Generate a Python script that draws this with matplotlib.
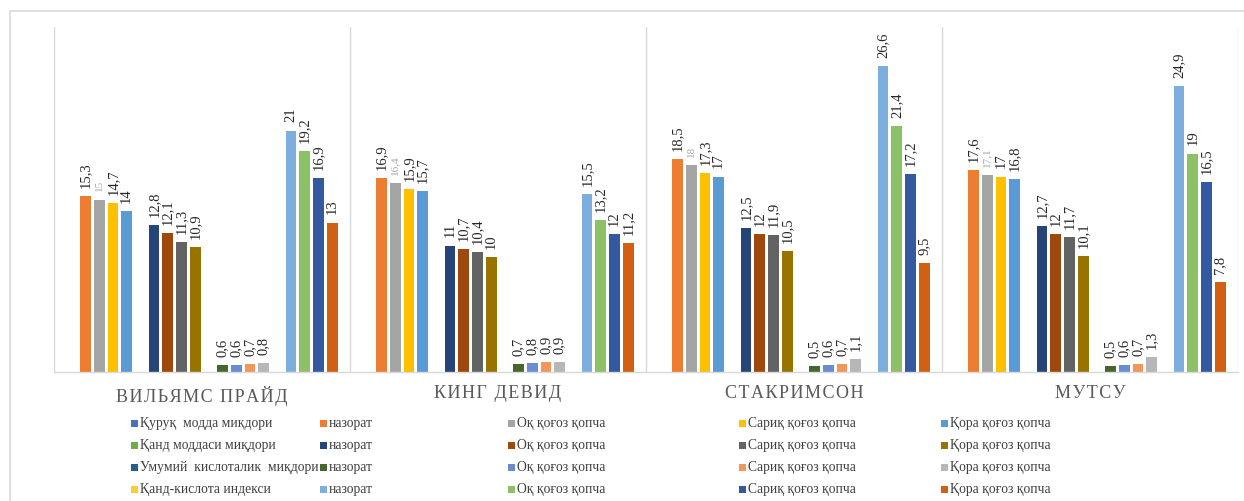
import matplotlib
matplotlib.use("Agg")
import matplotlib.pyplot as plt
from matplotlib.patches import Rectangle
import numpy as np

W, H = 1244, 502

varieties = ["ВИЛЬЯМС ПРАЙД", "КИНГ ДЕВИД", "СТАКРИМСОН", "МУТСУ"]
indicators = ["Қуруқ  модда миқдори", "Қанд моддаси миқдори",
              "Умумий  кислоталик  миқдори", "Қанд-кислота индекси"]
treatments = ["назорат", "Оқ қоғоз қопча", "Сариқ қоғоз қопча", "Қора қоғоз қопча"]

# values per indicator: rows = varieties, cols = treatments
dry_matter = [[15.3, 15.0, 14.7, 14.0],
              [16.9, 16.4, 15.9, 15.7],
              [18.5, 18.0, 17.3, 17.0],
              [17.6, 17.1, 17.0, 16.8]]
sugar = [[12.8, 12.1, 11.3, 10.9],
         [11.0, 10.7, 10.4, 10.0],
         [12.5, 12.0, 11.9, 10.5],
         [12.7, 12.0, 11.7, 10.1]]
acidity = [[0.6, 0.6, 0.7, 0.8],
           [0.7, 0.8, 0.9, 0.9],
           [0.5, 0.6, 0.7, 1.1],
           [0.5, 0.6, 0.7, 1.3]]
sugar_acid_index = [[21.0, 19.2, 16.9, 13.0],
                    [15.5, 13.2, 12.0, 11.2],
                    [26.6, 21.4, 17.2, 9.5],
                    [24.9, 19.0, 16.5, 7.8]]
blocks = [dry_matter, sugar, acidity, sugar_acid_index]

# Office palette: header colour of each block, then its four treatment colours
header_colors = ["#4472C4", "#70AD47", "#255E91", "#FFCD33"]
treatment_colors = [["#ED7D31", "#A5A5A5", "#FFC000", "#5B9BD5"],
                    ["#264478", "#9E480E", "#636363", "#997300"],
                    ["#43682B", "#698ED0", "#F1975A", "#B7B7B7"],
                    ["#7CAFDD", "#8CC168", "#335AA1", "#D26012"]]

plt.rcParams["font.family"] = ["Liberation Serif", "DejaVu Serif"]

fig = plt.figure(figsize=(W / 100, H / 100), dpi=100)
fig.patch.set_facecolor("white")

# chart-area frame
fig.add_artist(Rectangle((10 / W, -0.1), 1.2, 1 - 12 / H + 0.1,
                         transform=fig.transFigure, fill=False,
                         edgecolor="#D9D9D9", linewidth=1.2))

left, right = 54 / W, 1238 / W
bottom, top = 1 - 373 / H, 1 - 28 / H
ax = fig.add_axes([left, bottom, right - left, top - bottom])
ax.set_xlim(0, len(varieties))
ax.set_ylim(0, 30)

pitch = 13.7 / 296
bar_w = 10.8 / 296
n_slots = 20

for b, block in enumerate(blocks):
    for t in range(4):
        slot = b * 5 + 1 + t
        xs = np.arange(len(varieties)) + 0.5 + (slot - (n_slots - 1) / 2) * pitch
        vals = [row[t] for row in block]
        ax.bar(xs, vals, width=bar_w, color=treatment_colors[b][t], linewidth=0)
        for x, v in zip(xs, vals):
            label = f"{v:g}".replace(".", ",")
            if b == 0 and t == 1:
                kw = dict(fontsize=8, color="#A5A5A5")
            else:
                kw = dict(fontsize=10.5, color="#262626")
            ax.annotate(label, xy=(x, v), xytext=(0, 6.5), textcoords="offset points",
                        rotation=90, ha="center", va="bottom", **kw)

for i in range(len(varieties) + 1):
    ax.axvline(i, color="#D9D9D9", linewidth=1.0, zorder=0)

for s in ["top", "left", "right"]:
    ax.spines[s].set_visible(False)
ax.spines["bottom"].set_color("#D9D9D9")
ax.spines["bottom"].set_linewidth(1.0)
ax.set_yticks([])
ax.set_xticks(np.arange(len(varieties)) + 0.5)
# letter-spaced category names
spaced = ["\u200a".join(name) for name in varieties]
ax.set_xticklabels(spaced, fontsize=13, color="#595959")
ax.tick_params(axis="x", length=0, pad=9)

# legend: 4 rows x 5 columns, placed on a pixel grid
col_x = [131, 320, 508, 739, 941]
row_y = [424, 446, 468, 490]
for r in range(4):
    names = [indicators[r]] + treatments
    colors = [header_colors[r]] + treatment_colors[r]
    for c in range(5):
        x0, yc = col_x[c], row_y[r]
        fig.add_artist(Rectangle((x0 / W, 1 - (yc + 3.5) / H), 7 / W, 7 / H,
                                 transform=fig.transFigure, facecolor=colors[c],
                                 edgecolor="none"))
        fig.text((x0 + 9) / W, 1 - yc / H, names[c], fontsize=9.8, color="#404040",
                 ha="left", va="center")

fig.savefig("out.png", dpi=100)
